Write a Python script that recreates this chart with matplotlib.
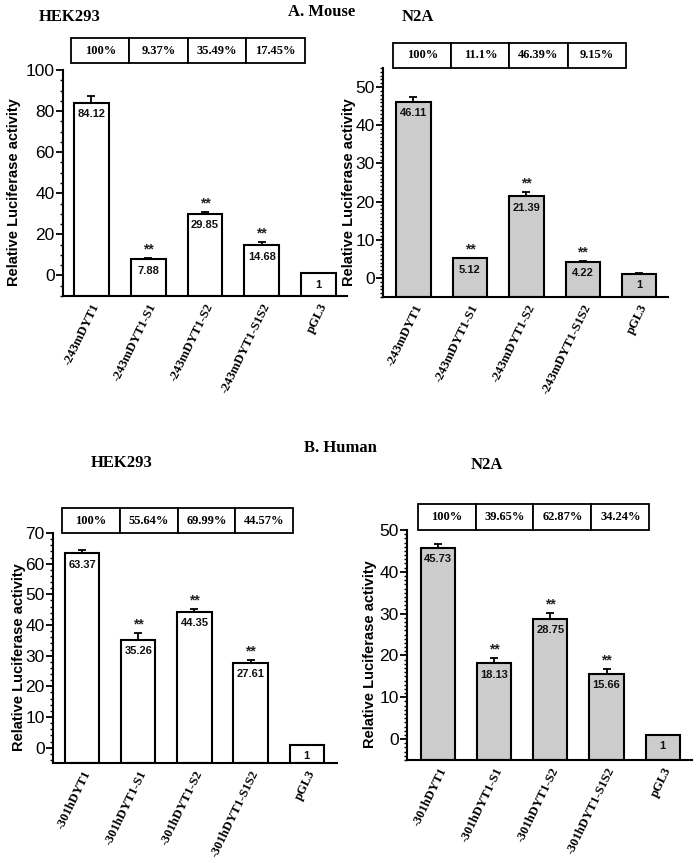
import numpy as np
import matplotlib
matplotlib.use("Agg")
import matplotlib.pyplot as plt
from matplotlib.patches import Rectangle
from matplotlib.ticker import MultipleLocator

# ---------------- data ----------------
mouse_labels = ['-243mDYT1', '-243mDYT1-S1', '-243mDYT1-S2', '-243mDYT1-S1S2', 'pGL3']
human_labels = ['-301hDYT1', '-301hDYT1-S1', '-301hDYT1-S2', '-301hDYT1-S1S2', 'pGL3']

mouse_hek = [84.12, 7.88, 29.85, 14.68, 1]
mouse_hek_err = [3.0, 0.5, 1.2, 1.5, 0.3]
mouse_hek_pct = ['100%', '9.37%', '35.49%', '17.45%']

mouse_n2a = [46.11, 5.12, 21.39, 4.22, 1]
mouse_n2a_err = [1.2, 0.2, 1.2, 0.2, 0.2]
mouse_n2a_pct = ['100%', '11.1%', '46.39%', '9.15%']

human_hek = [63.37, 35.26, 44.35, 27.61, 1]
human_hek_err = [1.2, 2.2, 0.8, 1.0, 0.0]
human_hek_pct = ['100%', '55.64%', '69.99%', '44.57%']

human_n2a = [45.73, 18.13, 28.75, 15.66, 1]
human_n2a_err = [1.0, 1.2, 1.5, 1.1, 0.0]
human_n2a_pct = ['100%', '39.65%', '62.87%', '34.24%']

signif = ['', '**', '**', '**', '']
value_text = [['84.12', '7.88', '29.85', '14.68', '1'],
              ['46.11', '5.12', '21.39', '4.22', '1'],
              ['63.37', '35.26', '44.35', '27.61', '1'],
              ['45.73', '18.13', '28.75', '15.66', '1']]

SERIF = 'Liberation Serif'
SANS = 'Liberation Sans'

W, H = 697, 863
fig = plt.figure(figsize=(W / 100, H / 100), dpi=100)
fig.patch.set_facecolor('white')


def make_axes(left, right, top, bottom):
    return fig.add_axes([left / W, 1 - bottom / H, (right - left) / W, (bottom - top) / H])


def panel(ax, labels, vals, errs, pct, vtext, ylim, major, minor, color,
          xlim, table_bot, table_top, ylab_x):
    x = np.arange(len(vals))
    ymin = ylim[0]
    heights = [v - ymin for v in vals]
    ax.bar(x, heights, bottom=ymin, width=0.61, color=color,
           edgecolor='black', linewidth=1.5, zorder=2)
    ax.errorbar(x, vals, yerr=[np.zeros(len(vals)), errs], fmt='none',
                ecolor='black', elinewidth=1.3, capsize=3, capthick=1.3, zorder=3)
    for i, (v, e, t) in enumerate(zip(vals, errs, vtext)):
        ax.annotate(t, xy=(i, v), xytext=(0, -4.5), textcoords='offset points',
                    ha='center', va='top', fontsize=8, fontweight='bold',
                    family=SANS, zorder=4, color='#111111')
        if signif[i]:
            ax.annotate(signif[i], xy=(i, v + e), xytext=(0, 1), textcoords='offset points',
                        ha='center', va='bottom', fontsize=10, fontweight='bold',
                        family=SANS, color='#222222')
    ax.set_xlim(*xlim)
    ax.set_ylim(*ylim)
    ax.yaxis.set_major_locator(MultipleLocator(major))
    ax.yaxis.set_minor_locator(MultipleLocator(minor))
    ax.set_yticks([t for t in ax.get_yticks() if ylim[0] <= t <= ylim[1] + 1e-9])
    ax.set_xticks(x)
    ax.set_xticklabels(labels, rotation=64, ha='right', va='top',
                       rotation_mode='anchor', fontsize=9.2, fontweight='bold',
                       family=SERIF)
    ax.tick_params(axis='x', length=0, pad=4)
    ax.tick_params(axis='y', which='major', length=5, width=1.3, pad=1,
                   labelsize=12.5)
    ax.tick_params(axis='y', which='minor', length=2.5, width=1.0)
    for lab in ax.get_yticklabels():
        lab.set_family(SANS)
    for s in ['top', 'right']:
        ax.spines[s].set_visible(False)
    for s in ['left', 'bottom']:
        ax.spines[s].set_linewidth(1.5)
    ax.set_ylabel('Relative Luciferase activity', fontsize=10.5, fontweight='bold',
                  family=SANS)
    ax.yaxis.set_label_coords(ylab_x, 0.46)
    # percentage table above the bars
    tr = ax.get_xaxis_transform()
    edges = [-0.36 + 1.03 * k for k in range(len(pct) + 1)]
    for k, p in enumerate(pct):
        ax.add_patch(Rectangle((edges[k], table_bot), edges[k + 1] - edges[k],
                               table_top - table_bot, transform=tr, clip_on=False,
                               facecolor='white', edgecolor='black', linewidth=1.3))
        ax.text((edges[k] + edges[k + 1]) / 2, (table_bot + table_top) / 2, p,
                transform=tr, ha='center', va='center', fontsize=9,
                fontweight='bold', family=SERIF)


# A. Mouse
ax1 = make_axes(63, 347, 70, 296)
panel(ax1, mouse_labels, mouse_hek, mouse_hek_err, mouse_hek_pct, value_text[0],
      (-10, 100), 20, 5, 'white', (-0.5, 4.5), (296 - 63) / 226, (296 - 38) / 226, -0.148)

ax2 = make_axes(383, 668, 68, 297)
panel(ax2, mouse_labels, mouse_n2a, mouse_n2a_err, mouse_n2a_pct, value_text[1],
      (-5, 55), 10, 1, '#cccccc', (-0.54, 4.51), (297 - 68) / 229, (297 - 43) / 229, -0.095)

# B. Human
ax3 = make_axes(53, 337, 533, 763)
panel(ax3, human_labels, human_hek, human_hek_err, human_hek_pct, value_text[2],
      (-5, 70), 10, 2, 'white', (-0.52, 4.54), (763 - 533) / 230, (763 - 508) / 230, -0.095)

ax4 = make_axes(407, 692, 530, 760)
panel(ax4, human_labels, human_n2a, human_n2a_err, human_n2a_pct, value_text[3],
      (-5, 50), 10, 1, '#cccccc', (-0.55, 4.52), (760 - 530) / 230, (760 - 504) / 230, -0.105)

# titles
def ftext(xp, yp, s, size=12):
    fig.text(xp / W, 1 - yp / H, s, ha='center', va='center', fontsize=size,
             fontweight='bold', family=SERIF)

ftext(70, 17, 'HEK293')
ftext(322, 12, 'A. Mouse')
ftext(418, 17, 'N2A')
ftext(340, 448, 'B. Human')
ftext(122, 463, 'HEK293')
ftext(487, 465, 'N2A')

fig.savefig('out.png', dpi=100, facecolor='white')
